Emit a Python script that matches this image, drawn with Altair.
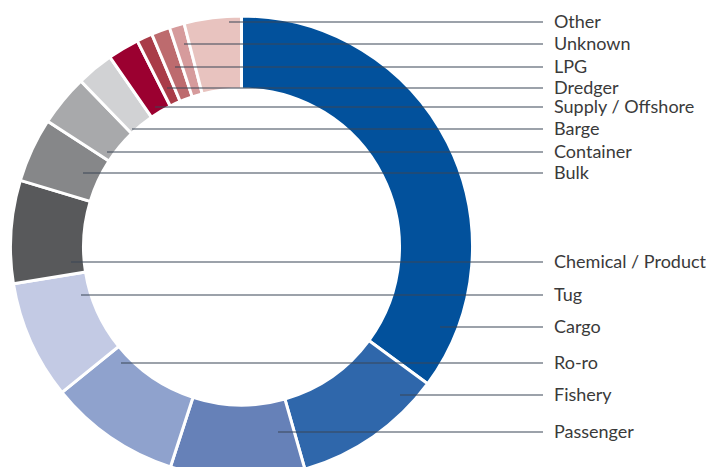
import altair as alt
import pandas as pd

# --- data (share of cases, %), clockwise from 12 o'clock ---
categories = ["Cargo", "Fishery", "Passenger", "Ro-ro", "Tug", "Chemical / Product",
              "Bulk", "Container", "Barge", "Supply / Offshore", "Dredger", "LPG",
              "Unknown", "Other"]
shares = [35.1, 10.5, 9.4, 9.2, 8.3, 7.2, 4.5, 3.6, 2.6, 2.2, 1.1, 1.3, 1.05, 4.0]
colors = ["#02519c", "#2f67ab", "#6681b8", "#8fa2cd", "#c3cae4", "#58595b",
          "#868789", "#a8a9ab", "#d1d2d4", "#9b0030", "#a93c48", "#bd6b6e",
          "#d69b9c", "#e8c3bf"]

# --- label layout (pixel positions of label rows and leader-line starts) ---
label_order = ["Other", "Unknown", "LPG", "Dredger", "Supply / Offshore", "Barge",
               "Container", "Bulk", "Chemical / Product", "Tug", "Cargo", "Ro-ro",
               "Fishery", "Passenger"]
label_y = [14, 36, 59, 80, 99, 121, 144, 165, 254, 287, 319, 355, 387, 424]
leader_x0 = [221, 176, 167, 159, 147, 124, 99, 75, 63, 73, 432, 113, 392, 270]

CX, CY = 233.5, 239
R_OUT, R_IN = 231, 158
LINE_END, TEXT_X = 535, 546

df = pd.DataFrame({"cat": categories, "share": shares, "idx": range(len(categories))})
lab = pd.DataFrame({"cat": label_order, "ly": label_y, "lx": leader_x0})

donut = alt.Chart(df).mark_arc(
    outerRadius=R_OUT, innerRadius=R_IN, stroke="white", strokeWidth=3
).encode(
    theta=alt.Theta("share:Q", stack=True),
    order=alt.Order("idx:Q"),
    color=alt.Color("cat:N", scale=alt.Scale(domain=categories, range=colors), legend=None),
    x=alt.value(CX),
    y=alt.value(CY),
)

rules = alt.Chart(lab).mark_rule(color="#3b4656", strokeWidth=1.2).encode(
    x=alt.X("lx:Q", scale=None, axis=None),
    x2=alt.value(LINE_END),
    y=alt.Y("ly:Q", scale=None, axis=None),
)

texts = alt.Chart(lab).mark_text(
    align="left", baseline="middle", font="Lato", fontSize=18, color="#3a3a3a", dy=1
).encode(
    x=alt.value(TEXT_X),
    y=alt.Y("ly:Q", scale=None, axis=None),
    text="cat:N",
)

chart = alt.layer(donut, rules, texts).properties(
    width=698, height=459, autosize=alt.AutoSizeParams(type="none"), padding=0
).configure_view(stroke=None)

chart.save("out.html", embed_options={"renderer": "svg", "actions": False})
